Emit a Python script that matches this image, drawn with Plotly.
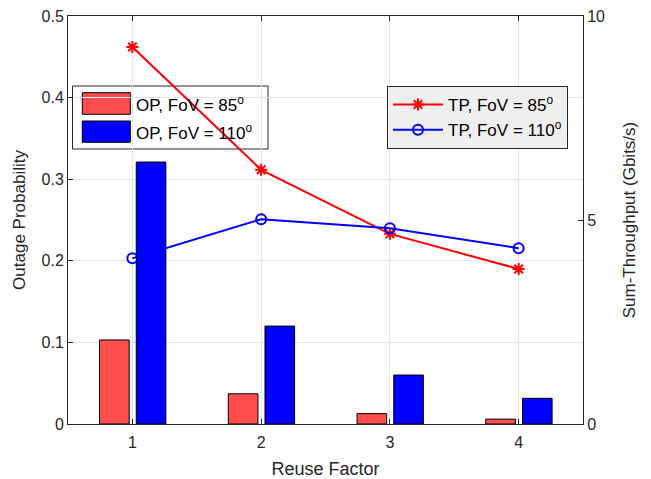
import plotly.graph_objects as go

reuse = [1, 2, 3, 4]
op_fov85 = [0.103, 0.037, 0.0127, 0.006]
op_fov110 = [0.321, 0.120, 0.060, 0.0315]
tp_fov85 = [9.24, 6.23, 4.66, 3.80]
tp_fov110 = [4.06, 5.02, 4.80, 4.31]
op_names = ["OP, FoV = 85<sup>o</sup>", "OP, FoV = 110<sup>o</sup>"]
tp_names = ["TP, FoV = 85<sup>o</sup>", "TP, FoV = 110<sup>o</sup>"]
op_colors = ["#FF4D4D", "#0000FF"]

FONT = "Liberation Sans, Arial, sans-serif"
TXT = "#262626"

# The page body adds an 8px offset; compensate so the figure lands where the reference is
OFF = 8
W, H = 651 - OFF, 479 - OFF
ML, MR, MT, MB = 68 - OFF, 68, 16 - OFF, 55
PW, PH = W - ML - MR, H - MT - MB


def px(x):
    # x in reference-image pixels
    return (x - OFF - ML) / PW


def py(y):
    return 1 - (y - OFF - MT) / PH


fig = go.Figure()

# Lines on primary y (right side), drawn below bars
fig.add_trace(go.Scatter(
    x=reuse, y=tp_fov85, mode="lines+markers", name=tp_names[0],
    line=dict(color="#FF0000", width=2),
    marker=dict(symbol="asterisk-open", size=10, color="#FF0000", line=dict(width=2, color="#FF0000")),
    yaxis="y", legend="legend2"))
fig.add_trace(go.Scatter(
    x=reuse, y=tp_fov110, mode="lines+markers", name=tp_names[1],
    line=dict(color="#0000FF", width=2),
    marker=dict(symbol="circle-open", size=10, color="#0000FF", line=dict(width=2, color="#0000FF")),
    yaxis="y", legend="legend2"))

# Bars on overlaying axis (left side), drawn above lines
fig.add_trace(go.Bar(
    x=reuse, y=op_fov85, name=op_names[0], width=0.23, offset=-0.255,
    marker=dict(color=op_colors[0], line=dict(color="#000000", width=1)),
    yaxis="y2", showlegend=False))
fig.add_trace(go.Bar(
    x=reuse, y=op_fov110, name=op_names[1], width=0.23, offset=0.03,
    marker=dict(color=op_colors[1], line=dict(color="#000000", width=1)),
    yaxis="y2", showlegend=False))

# Manual legend for the bars (large swatches like the reference)
shapes = [dict(type="rect", xref="paper", yref="paper", layer="between",
               x0=px(72.5), x1=px(268), y0=py(149), y1=py(86),
               fillcolor="white", line=dict(color="#262626", width=1))]
annotations = []
rows = [(92.7, 114.3), (121, 142.3)]
for (y0, y1), name, col in zip(rows, op_names, op_colors):
    shapes.append(dict(type="rect", xref="paper", yref="paper", layer="between",
                       x0=px(82.3), x1=px(130.3), y0=py(y1), y1=py(y0),
                       fillcolor=col, line=dict(color="#000000", width=1)))
    annotations.append(dict(xref="paper", yref="paper", x=px(134), y=py((y0 + y1) / 2),
                            xanchor="left", yanchor="middle", showarrow=False,
                            text=name, font=dict(size=17, color="#000000", family=FONT)))

fig.update_layout(
    width=W, height=H,
    margin=dict(l=ML, r=MR, t=MT, b=MB),
    paper_bgcolor="white", plot_bgcolor="white",
    font=dict(family=FONT, size=16, color=TXT),
    barmode="overlay",
    shapes=shapes, annotations=annotations,
    xaxis=dict(
        range=[0.5, 4.5], tickvals=reuse, ticktext=[str(v) for v in reuse],
        title=dict(text="Reuse Factor", font=dict(size=18, color=TXT), standoff=14),
        showgrid=True, gridcolor="#E5E5E5", gridwidth=1, automargin=False,
        showline=True, linecolor="#262626", linewidth=1, mirror="ticks",
        ticks="inside", ticklen=5, tickcolor="#262626", zeroline=False,
        tickfont=dict(size=16, color=TXT), ticklabelstandoff=4,
        ticklabeloverflow="allow",
    ),
    yaxis=dict(
        side="right", range=[0, 10], tickvals=[0, 5, 10], ticktext=["0", "5", "10"],
        title=dict(text="Sum-Throughput (Gbits/s)", font=dict(size=17, color=TXT), standoff=19),
        showgrid=False, zeroline=False, automargin=False,
        showline=True, linecolor="#262626", linewidth=1,
        ticks="inside", ticklen=5, tickcolor="#262626",
        tickfont=dict(size=16, color=TXT), ticklabeloverflow="allow",
    ),
    yaxis2=dict(
        side="left", overlaying="y", range=[0, 0.5],
        tickvals=[0, 0.1, 0.2, 0.3, 0.4, 0.5], ticktext=["0", "0.1", "0.2", "0.3", "0.4", "0.5"],
        title=dict(text="Outage Probability", font=dict(size=17, color=TXT), standoff=11),
        showgrid=True, gridcolor="#E5E5E5", gridwidth=1, zeroline=False, automargin=False,
        showline=True, linecolor="#262626", linewidth=1,
        ticks="inside", ticklen=5, tickcolor="#262626",
        tickfont=dict(size=16, color=TXT), ticklabeloverflow="allow",
    ),
    legend2=dict(
        x=px(387), y=py(86), xanchor="left", yanchor="top",
        bgcolor="#EFEFEF", bordercolor="#262626", borderwidth=1,
        font=dict(size=17, color="#000000"), itemwidth=50, tracegroupgap=0,
    ),
)

fig.write_html("out.html")
